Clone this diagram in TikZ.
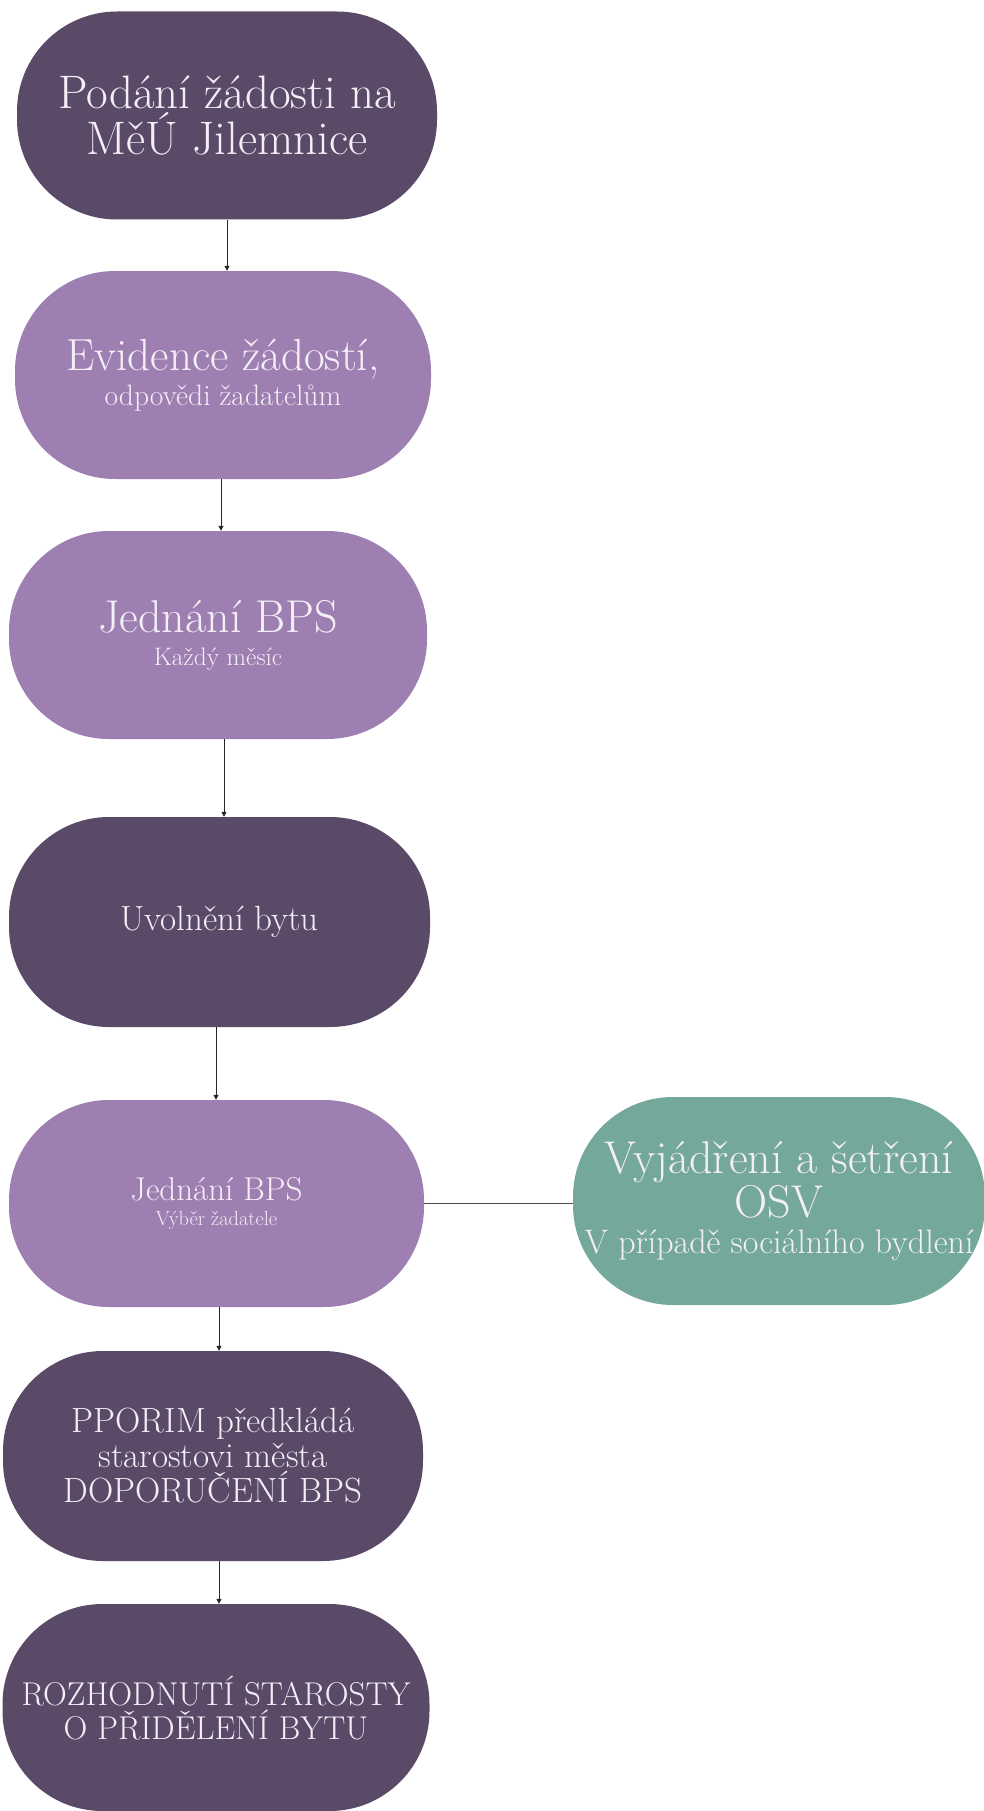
\documentclass[tikz,border=0pt]{standalone}
\usetikzlibrary{arrows.meta}
\definecolor{darkp}{HTML}{5A4A68}
\definecolor{lightp}{HTML}{9D80B1}
\definecolor{greenb}{HTML}{73A89A}
\definecolor{txtc}{HTML}{F4EEF6}
\newcommand{\fs}[1]{\fontsize{#1}{#1}\selectfont}
\newcommand{\tightlines}{\baselineskip=0pt\relax\lineskip=0pt\relax\lineskiplimit=-1000pt\relax}
\begin{document}
\begin{tikzpicture}[x=1pt,y=-1pt,
  box/.style={rounded corners=100pt, minimum height=208pt, text=txtc, align=center, inner sep=0pt,
    font=\tightlines},
  dark/.style={box, fill=darkp},
  light/.style={box, fill=lightp},
  green/.style={box, fill=greenb},
  arr/.style={draw=black!85, line width=1pt, -{Triangle[length=5pt,width=5pt]}},
  link/.style={draw=black!70, line width=1.2pt}]
\useasboundingbox (0,0) rectangle (983,1811);
\node[dark, minimum width=420pt] (n1) at (227,115.5)
  {\fs{47}Podání žádosti na\\[46pt] \fs{47}MěÚ Jilemnice};
\node[light, minimum width=416pt] (n2) at (223,375)
  {\fs{45}Evidence žádostí,\\[35pt] \fs{29.5}odpovědi žadatelům};
\node[light, minimum width=418pt] (n3) at (218,635)
  {\fs{46}Jednání BPS\\[33pt] \fs{25.3}Každý měsíc};
\node[dark, minimum width=421pt, minimum height=210pt] (n4) at (219.5,922)
  {\fs{35}Uvolnění bytu};
\node[light, minimum width=415pt, minimum height=207pt] (n5) at (216.5,1203.5)
  {\fs{33}Jednání BPS\\[25pt] \fs{20.3}Výběr žadatele};
\node[green, minimum width=412pt] (n6) at (779,1201)
  {\fs{46}Vyjádření a šetření\\[44pt] \fs{46}OSV\\[36pt] \fs{34}V případě sociálního bydlení};
\node[dark, minimum width=420pt, minimum height=210pt] (n7) at (213,1456)
  {\fs{35}PPORIM předkládá\\[35pt] \fs{35}starostovi města\\[35pt] \fs{35}DOPORUČENÍ BPS};
\node[dark, minimum width=427pt, minimum height=207pt] (n8) at (216,1707.5)
  {\fs{33}ROZHODNUTÍ STAROSTY\\[34pt] \fs{33}O PŘIDĚLENÍ BYTU};
\draw[arr] (n1.south) -- (n1.south |- n2.north);
\draw[arr] ([xshift=-2pt]n2.south) -- ([xshift=-2pt]n2.south |- n3.north);
\draw[arr] ([xshift=6pt]n3.south) -- ([xshift=6pt]n3.south |- n4.north);
\draw[arr] ([xshift=-3.5pt]n4.south) -- ([xshift=-3.5pt]n4.south |- n5.north);
\draw[arr] ([xshift=2.5pt]n5.south) -- ([xshift=2.5pt]n5.south |- n7.north);
\draw[arr] ([xshift=6pt]n7.south) -- ([xshift=6pt]n7.south |- n8.north);
\draw[link] (n5.east) -- (n5.east -| n6.west);
\end{tikzpicture}
\end{document}
